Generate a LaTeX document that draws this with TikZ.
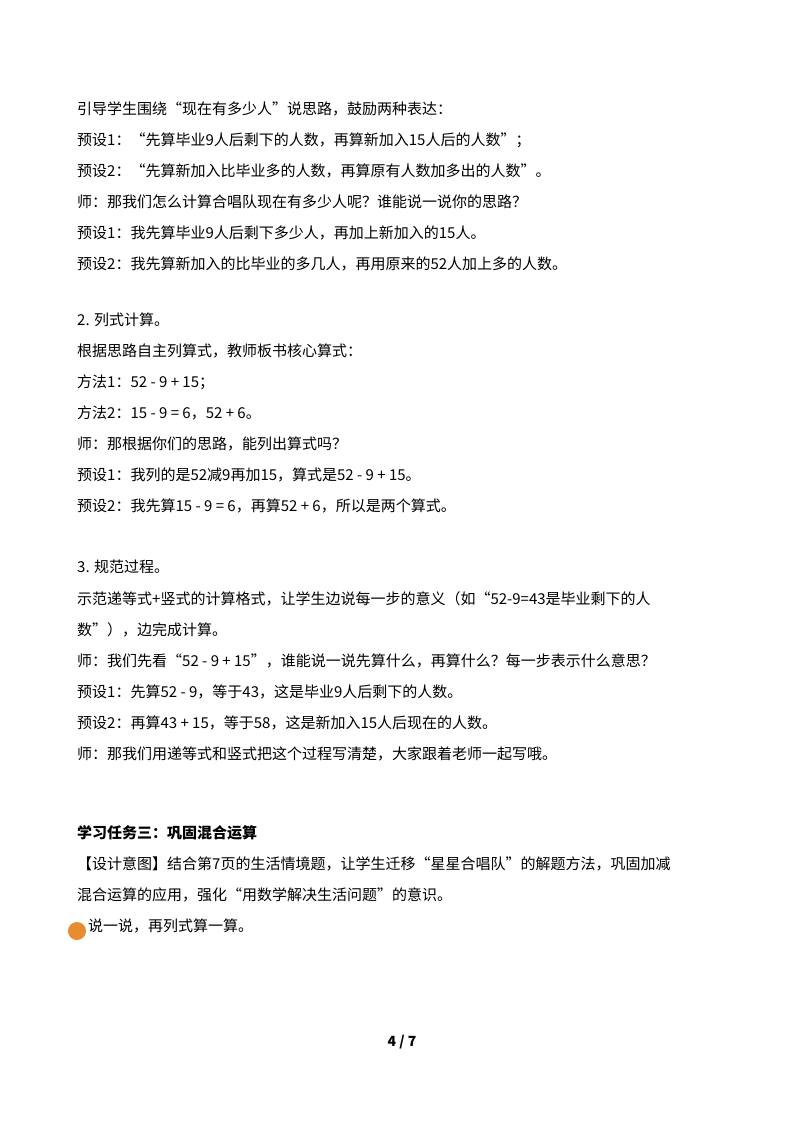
\documentclass[tikz,border=0pt]{standalone}
\usepackage{fontspec}
\setmainfont{Noto Sans CJK SC}
\definecolor{dotorange}{RGB}{232,140,48}
\begin{document}
\begin{tikzpicture}[x=1pt,y=-1pt,
  ln/.style={anchor=west,inner sep=0pt,font=\fontsize{15}{18}\selectfont}]
\useasboundingbox[fill=white] (0,0) rectangle (800,1132);
\node[ln] (l1) at (77,109) {引导学生围绕“现在有多少人”说思路，鼓励两种表达：};
\node[ln] (l2) at (77,140) {预设1：“先算毕业9人后剩下的人数，再算新加入15人后的人数”；};
\node[ln] (l3) at (77,171) {预设2：“先算新加入比毕业多的人数，再算原有人数加多出的人数”。};
\node[ln] (l4) at (77,202) {师：那我们怎么计算合唱队现在有多少人呢？谁能说一说你的思路？};
\node[ln] (l5) at (77,233) {预设1：我先算毕业9人后剩下多少人，再加上新加入的15人。};
\node[ln] (l6) at (77,264) {预设2：我先算新加入的比毕业的多几人，再用原来的52人加上多的人数。};
\node[ln] (m1) at (77,320) {2. 列式计算。};
\node[ln] (m2) at (77,351) {根据思路自主列算式，教师板书核心算式：};
\node[ln] (m3) at (77,382) {方法1：52 - 9 + 15；};
\node[ln] (m4) at (77,413) {方法2：15 - 9 = 6，52 + 6。};
\node[ln] (m5) at (77,444) {师：那根据你们的思路，能列出算式吗？};
\node[ln] (m6) at (77,475) {预设1：我列的是52减9再加15，算式是52 - 9 + 15。};
\node[ln] (m7) at (77,506) {预设2：我先算15 - 9 = 6，再算52 + 6，所以是两个算式。};
\node[ln] (n1) at (77,567) {3. 规范过程。};
\node[ln] (n2) at (77,599) {示范递等式+竖式的计算格式，让学生边说每一步的意义（如“52-9=43是毕业剩下的人};
\node[ln] (n3) at (77,630) {数”），边完成计算。};
\node[ln] (n4) at (77,661) {师：我们先看“52 - 9 + 15”，谁能说一说先算什么，再算什么？每一步表示什么意思？};
\node[ln] (n5) at (77,692) {预设1：先算52 - 9，等于43，这是毕业9人后剩下的人数。};
\node[ln] (n6) at (77,723) {预设2：再算43 + 15，等于58，这是新加入15人后现在的人数。};
\node[ln] (n7) at (77,754) {师：那我们用递等式和竖式把这个过程写清楚，大家跟着老师一起写哦。};
\node[ln,font=\fontsize{15}{18}\selectfont\bfseries] (t1) at (77,833) {学习任务三：巩固混合运算};
\node[ln] (t2) at (77,864) {【设计意图】结合第7页的生活情境题，让学生迁移“星星合唱队”的解题方法，巩固加减};
\node[ln] (t3) at (77,895) {混合运算的应用，强化“用数学解决生活问题”的意识。};
\fill[dotorange] (77,931) circle (9);
\node[ln] (t4) at (88,926) {说一说，再列式算一算。};
\node[inner sep=0pt,font=\fontsize{14}{16}\selectfont\bfseries] (pg) at (402,1042) {4 / 7};
\end{tikzpicture}
\end{document}
